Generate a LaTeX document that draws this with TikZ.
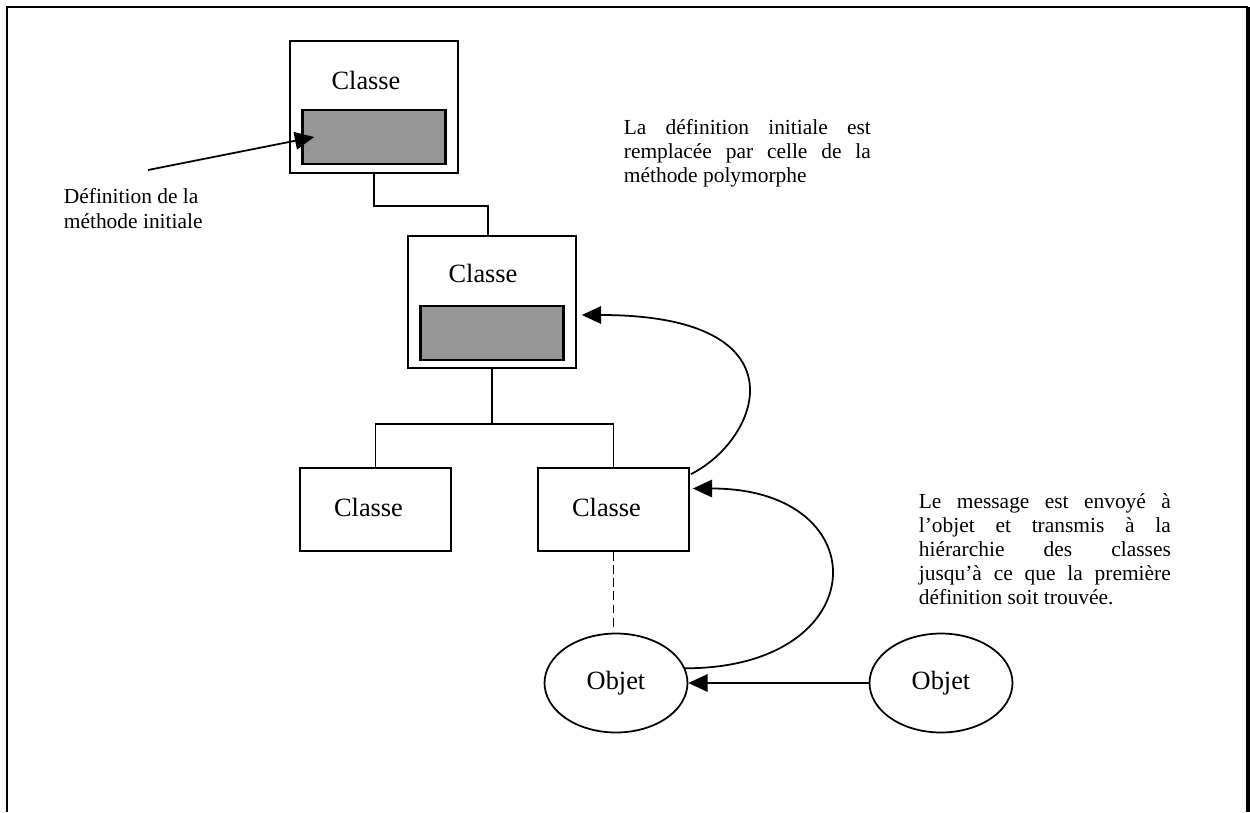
\documentclass[tikz,border=0pt]{standalone}
\usepackage{fontspec}
\setmainfont{Liberation Serif}
\usetikzlibrary{positioning}
\usetikzlibrary{arrows.meta,shapes}
\usetikzlibrary{calc}
\definecolor{methgray}{RGB}{150,150,150}

\begin{document}
\begin{tikzpicture}[x=0.02cm, y=-0.02cm, line width=1pt,
  classbox/.style={draw, rectangle, inner sep=0pt},
  methbox/.style={draw, line width=1.5pt, fill=methgray, minimum width=2.86cm, minimum height=1.08cm, inner sep=0pt},
  objnode/.style={draw, ellipse, minimum width=2.86cm, minimum height=1.98cm, inner sep=0pt, font=\fontsize{15pt}{18pt}\selectfont},
  clabel/.style={inner sep=0pt, font=\fontsize{15pt}{18pt}\selectfont},
  note/.style={inner sep=0pt, font=\fontsize{12.2pt}{13.8pt}\selectfont},
  msgarrow/.style={-{Triangle[length=11pt,width=10pt]}}]

\useasboundingbox (0,0) rectangle (1250,812);
%cadre
\draw[line width=1.2pt] (7,812) -- (7,7) -- (1248,7);
\draw[line width=2.4pt] (1248,7) -- (1248,812);

%classes
\node[classbox, minimum width=3.36cm, minimum height=2.64cm] (classA) at (374,107) {};
\node[clabel] at ($(classA.center)+(-8,-27)$) {Classe};
\node[methbox] (methA) at ($(classA.center)+(0,30)$) {};

\node[classbox, minimum width=3.36cm, minimum height=2.64cm] (classB) at (492,302) {};
\node[clabel] at ($(classB.center)+(-9,-29)$) {Classe};
\node[methbox] (methB) at ($(classB.center)+(0,31)$) {};

\node[classbox, minimum width=3.02cm, minimum height=1.66cm] (classC) at (375.5,509.5) {};
\node[clabel] at ($(classC.center)+(-7,-2)$) {Classe};
\node[classbox, minimum width=3.02cm, minimum height=1.66cm] (classD) at (613.5,509.5) {};
\node[clabel] at ($(classD.center)+(-7,-2)$) {Classe};

%objets
\node[objnode] (objA) at (616,683) {Objet};
\node[objnode] (objB) at (941,683) {Objet};

%hierarchie
\draw (classA.south) -- ++(0,32) -| ($(classB.north)+(-4,0)$);
\draw (classB.south) -- ++(0,55) coordinate (fork);
\draw (classC.north) |- (fork) -| (classD.north);
\draw[dash pattern=on 5pt off 2.5pt, shorten >=3.4pt] (classD.south) -- (classD.south |- objA.north);

%messages
\draw[msgarrow] (objB.west) -- (objA.east);
\draw[msgarrow] (objA.12) .. controls +(190,0) and +(187,0) .. ($(classD.east)+(3,-21)$);
\draw[msgarrow] ($(classD.north east)+(1,7)$) .. controls +(70,-35) and +(225,0) .. ($(classB.east)+(5,13)$);

%textes
\coordinate (defTail) at (148,170);
\draw[msgarrow] (defTail) -- ($(methA.west)+(13,0)$);
\node[note, align=left, anchor=base west] (noteDef) at (63,228) {Définition de la\\méthode initiale};
\node[note, text width=4.94cm, align=justify, anchor=base west] (noteRepl) at (623,134)
  {La définition initiale est\linebreak remplacée par celle de la\linebreak méthode polymorphe};
\node[note, text width=5.04cm, align=justify, anchor=base west] (noteMsg) at (918,508)
  {Le message est envoyé à\linebreak l'objet et transmis à la\linebreak hiérarchie des classes\linebreak jusqu'à ce que la première\linebreak définition soit trouvée.};
\end{tikzpicture}
\end{document}
